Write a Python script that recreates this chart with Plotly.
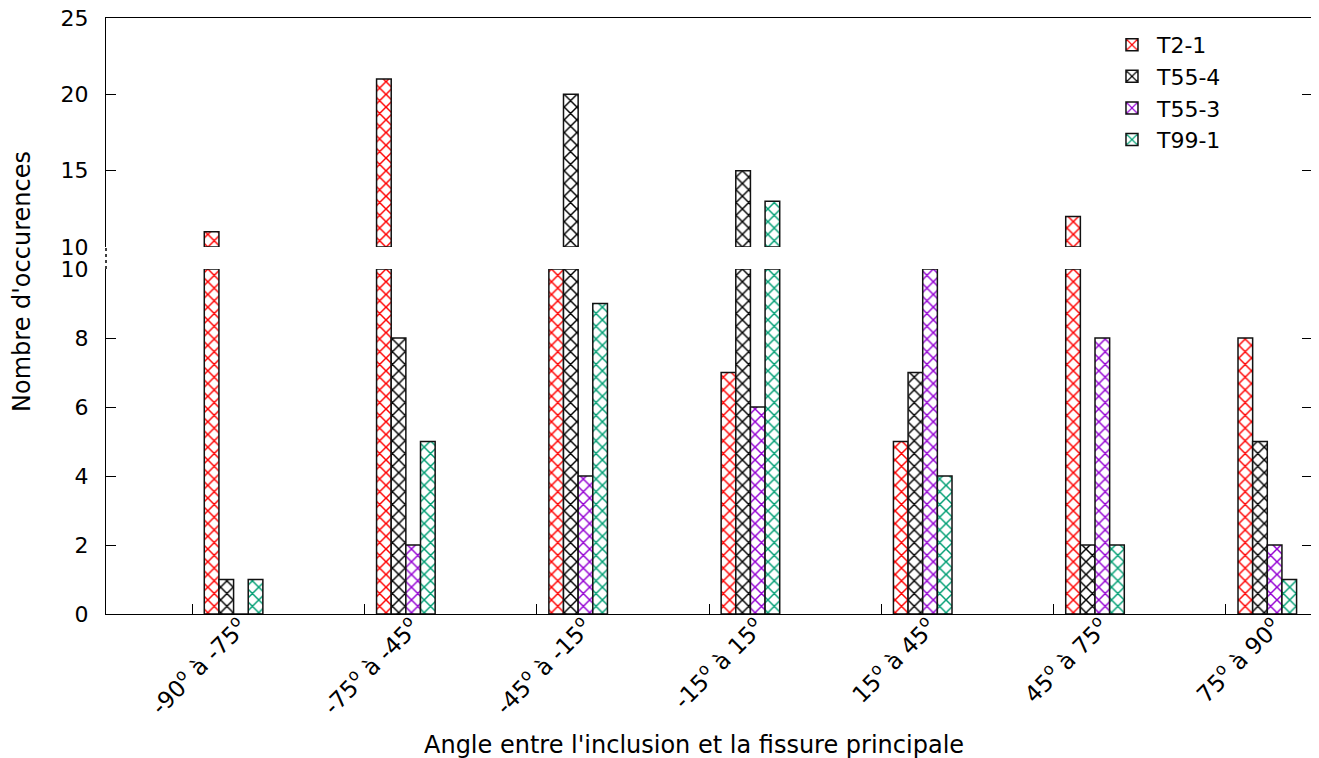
import plotly.graph_objects as go

categories = ["-90<sup>o</sup> à -75<sup>o</sup>", "-75<sup>o</sup> à -45<sup>o</sup>",
              "-45<sup>o</sup> à -15<sup>o</sup>", "-15<sup>o</sup> à 15<sup>o</sup>",
              "15<sup>o</sup> à 45<sup>o</sup>", "45<sup>o</sup> à 75<sup>o</sup>",
              "75<sup>o</sup> à 90<sup>o</sup>"]
series_names = ["T2-1", "T55-4", "T55-3", "T99-1"]
t2_1 = [11, 21, 10, 7, 5, 12, 8]
t55_4 = [1, 8, 20, 15, 7, 2, 5]
t55_3 = [0, 2, 4, 6, 10, 8, 2]
t99_1 = [1, 5, 9, 13, 4, 2, 1]
colors = ["#ff0000", "#000000", "#9400d3", "#009e73"]
lower_ticks = [0, 2, 4, 6, 8, 10]
upper_ticks = [10, 15, 20, 25]
BREAK = 10

FONT = "DejaVu Sans"
FS = 22
FS_TICK = 22
FS_X = 23
FS_TITLE = 24
series = [t2_1, t55_4, t55_3, t99_1]
n = len(categories)
xi = list(range(n))
bw = 0.085
off0 = 0.113
lab_off = 0.28

fig = go.Figure()
for k, (name, vals, col) in enumerate(zip(series_names, series, colors)):
    xs = [i + off0 + k * bw for i in xi]
    pat = dict(shape="x", fgcolor=col, bgcolor="white", size=9, solidity=0.3, fillmode="replace")
    fig.add_trace(go.Bar(
        x=xs, y=[min(v, BREAK) for v in vals], width=bw, name=name,
        marker=dict(color="white", pattern=pat, line=dict(color="#111", width=1.5)),
        xaxis="x", yaxis="y", legendgroup=name, showlegend=True))
    ux = [x for x, v in zip(xs, vals) if v > BREAK]
    uy = [v - BREAK for v in vals if v > BREAK]
    fig.add_trace(go.Bar(
        x=ux, y=uy, base=BREAK, width=bw, name=name,
        marker=dict(color="white", pattern=pat, line=dict(color="#111", width=1.5)),
        xaxis="x2", yaxis="y2", legendgroup=name, showlegend=False))

fig.add_trace(go.Scatter(x=[i + lab_off for i in xi], y=[0] * n, mode="markers",
                         marker=dict(opacity=0), xaxis="x3", yaxis="y",
                         showlegend=False, hoverinfo="skip"))

# page body has an 8px margin: figure is shifted by 8px
W, H = 1311, 750
top_m, bot_m, left_m, right_m = 10, 144, 98, 7
ph = H - top_m - bot_m
low_top = (614 - 269) / ph
up_bot = (614 - 247) / ph

axis_common = dict(showgrid=False, zeroline=False, linecolor="black", linewidth=1.2,
                   tickcolor="black", automargin=False, ticklabeloverflow="allow")

fig.update_layout(
    width=W, height=H,
    margin=dict(l=left_m, r=right_m, t=top_m, b=bot_m),
    plot_bgcolor="white", paper_bgcolor="white",
    barmode="overlay",
    font=dict(family=FONT, size=FS, color="black"),
    xaxis=dict(range=[-0.5, 6.5], tickvals=xi, showticklabels=False, ticks="inside",
               ticklen=10, showline=True, mirror=False, anchor="y", **axis_common),
    xaxis3=dict(range=[-0.5, 6.5], overlaying="x", anchor="y", side="bottom",
                tickvals=[i + lab_off for i in xi], ticktext=categories, tickangle=-45,
                ticks="", showline=False, ticklabelstandoff=-6,
                tickfont=dict(family=FONT, size=FS_X, color="black"), **axis_common),
    xaxis2=dict(range=[-0.5, 6.5], matches="x", showticklabels=False, ticks="",
                showline=True, side="top", anchor="y2", **axis_common),
    yaxis=dict(domain=[0, low_top], range=[0, BREAK], tickvals=lower_ticks, ticks="inside",
               ticklen=10, showline=True, mirror="ticks", ticklabelstandoff=12,
               tickfont=dict(family=FONT, size=FS_TICK, color="black"), **axis_common),
    yaxis2=dict(domain=[up_bot, 1], range=[BREAK, 25], tickvals=upper_ticks, ticks="inside",
                ticklen=10, showline=True, mirror="ticks", ticklabelstandoff=12,
                tickfont=dict(family=FONT, size=FS_TICK, color="black"), **axis_common),
    legend=dict(x=0.83, y=0.99, xanchor="left", yanchor="top", bgcolor="rgba(0,0,0,0)",
                font=dict(family=FONT, size=FS), tracegroupgap=0, itemwidth=40),
    annotations=[
        dict(text="Nombre d'occurences", textangle=-90, xref="paper", yref="paper",
             x=-0.0697, y=(614 - 281) / ph, showarrow=False,
             font=dict(family=FONT, size=FS_TITLE), xanchor="center", yanchor="middle"),
        dict(text="Angle entre l'inclusion et la fissure principale", xref="paper", yref="paper",
             x=(694 - 106) / 1206, y=(614 - 745) / ph, showarrow=False,
             font=dict(family=FONT, size=FS_TITLE), xanchor="center", yanchor="middle"),
    ],
    shapes=[
        dict(type="line", xref="paper", yref="paper", x0=0, x1=0, y0=low_top, y1=up_bot,
             line=dict(color="black", width=1.5, dash="dot")),
        dict(type="line", xref="paper", yref="paper", x0=1, x1=1, y0=low_top, y1=up_bot,
             line=dict(color="black", width=1.5, dash="dot")),
    ],
)

fig.write_html("out.html")
